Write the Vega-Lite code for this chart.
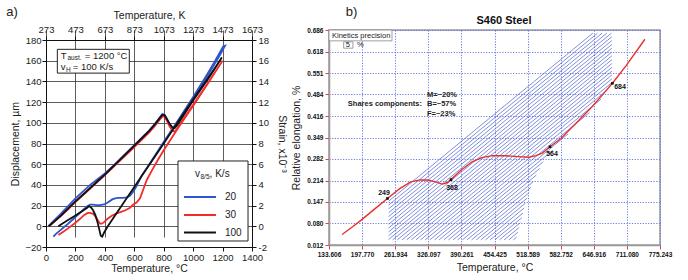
{
"$schema": "https://vega.github.io/schema/vega-lite/v6.json",
"autosize": {"type": "none"},
"padding": {"left": 46, "top": 30, "right": 642, "bottom": 250},
"background": "white",
"spacing": 3,
"config": {
  "font": "Liberation Sans",
  "view": {"stroke": null},
  "axis": {"labelFont": "Liberation Sans", "titleFont": "Liberation Sans", "titleFontWeight": "normal", "labelFlush": false, "labelOverlap": false},
  "text": {"font": "Liberation Sans"}
},
"datasets": {
"curves": [
{"r":"20","i":0,"T":15,"D":0},{"r":"20","i":1,"T":60,"D":6.5},{"r":"20","i":2,"T":100,"D":12},{"r":"20","i":3,"T":150,"D":19.5},{"r":"20","i":4,"T":200,"D":27},{"r":"20","i":5,"T":250,"D":33.5},{"r":"20","i":6,"T":300,"D":40},{"r":"20","i":7,"T":350,"D":45.5},{"r":"20","i":8,"T":400,"D":51},{"r":"20","i":9,"T":450,"D":57.5},{"r":"20","i":10,"T":500,"D":64.5},{"r":"20","i":11,"T":600,"D":78.5},{"r":"20","i":12,"T":700,"D":92.5},{"r":"20","i":13,"T":740,"D":99},{"r":"20","i":14,"T":770,"D":104.5},{"r":"20","i":15,"T":790,"D":108.5},{"r":"20","i":16,"T":805,"D":108},{"r":"20","i":17,"T":820,"D":104.5},{"r":"20","i":18,"T":840,"D":99},{"r":"20","i":19,"T":856,"D":95.5},{"r":"20","i":20,"T":870,"D":95.5},{"r":"20","i":21,"T":890,"D":98.5},{"r":"20","i":22,"T":920,"D":105},{"r":"20","i":23,"T":1000,"D":123},{"r":"20","i":24,"T":1100,"D":146},{"r":"20","i":25,"T":1180,"D":165},{"r":"20","i":26,"T":1217,"D":174.5},
{"r":"20","i":27,"T":1205,"D":174},{"r":"20","i":28,"T":1150,"D":160},{"r":"20","i":29,"T":1100,"D":148},{"r":"20","i":30,"T":1000,"D":125},{"r":"20","i":31,"T":900,"D":103},{"r":"20","i":32,"T":800,"D":81.5},{"r":"20","i":33,"T":700,"D":59.5},{"r":"20","i":34,"T":650,"D":49},{"r":"20","i":35,"T":630,"D":43},{"r":"20","i":36,"T":610,"D":37.5},{"r":"20","i":37,"T":590,"D":33},{"r":"20","i":38,"T":570,"D":29.5},{"r":"20","i":39,"T":550,"D":28},{"r":"20","i":40,"T":520,"D":27.5},{"r":"20","i":41,"T":490,"D":27.5},{"r":"20","i":42,"T":470,"D":27},{"r":"20","i":43,"T":450,"D":26},{"r":"20","i":44,"T":420,"D":23},{"r":"20","i":45,"T":400,"D":21.5},{"r":"20","i":46,"T":370,"D":20.5},{"r":"20","i":47,"T":340,"D":20.5},{"r":"20","i":48,"T":320,"D":21},{"r":"20","i":49,"T":300,"D":21},{"r":"20","i":50,"T":280,"D":19.5},{"r":"20","i":51,"T":250,"D":15.5},{"r":"20","i":52,"T":200,"D":9},{"r":"20","i":53,"T":150,"D":2.5},{"r":"20","i":54,"T":100,"D":-3.5},{"r":"20","i":55,"T":70,"D":-7},{"r":"20","i":56,"T":50,"D":-10},
{"r":"30","i":0,"T":20,"D":0},{"r":"30","i":1,"T":60,"D":5},{"r":"30","i":2,"T":100,"D":10},{"r":"30","i":3,"T":150,"D":16.5},{"r":"30","i":4,"T":200,"D":23.5},{"r":"30","i":5,"T":250,"D":30},{"r":"30","i":6,"T":300,"D":36.5},{"r":"30","i":7,"T":400,"D":49.5},{"r":"30","i":8,"T":500,"D":63},{"r":"30","i":9,"T":600,"D":76.5},{"r":"30","i":10,"T":700,"D":90.5},{"r":"30","i":11,"T":740,"D":97},{"r":"30","i":12,"T":770,"D":102.5},{"r":"30","i":13,"T":790,"D":106},{"r":"30","i":14,"T":805,"D":106},{"r":"30","i":15,"T":820,"D":102.5},{"r":"30","i":16,"T":840,"D":96.5},{"r":"30","i":17,"T":860,"D":92.5},{"r":"30","i":18,"T":872,"D":91.5},{"r":"30","i":19,"T":885,"D":93},{"r":"30","i":20,"T":910,"D":98.5},{"r":"30","i":21,"T":1000,"D":117.5},{"r":"30","i":22,"T":1100,"D":138.5},{"r":"30","i":23,"T":1200,"D":160},
{"r":"30","i":24,"T":1150,"D":149},{"r":"30","i":25,"T":1100,"D":138},{"r":"30","i":26,"T":1000,"D":116.5},{"r":"30","i":27,"T":900,"D":95.5},{"r":"30","i":28,"T":843,"D":83},{"r":"30","i":29,"T":800,"D":73.5},{"r":"30","i":30,"T":760,"D":64},{"r":"30","i":31,"T":720,"D":54},{"r":"30","i":32,"T":684,"D":44.5},{"r":"30","i":33,"T":661,"D":35.5},{"r":"30","i":34,"T":639,"D":27},{"r":"30","i":35,"T":615,"D":23},{"r":"30","i":36,"T":593,"D":21},{"r":"30","i":37,"T":571,"D":18},{"r":"30","i":38,"T":540,"D":15.5},{"r":"30","i":39,"T":510,"D":14},{"r":"30","i":40,"T":480,"D":12.5},{"r":"30","i":41,"T":450,"D":10.5},{"r":"30","i":42,"T":420,"D":7.5},{"r":"30","i":43,"T":395,"D":4},{"r":"30","i":44,"T":380,"D":2.5},{"r":"30","i":45,"T":367,"D":2.5},{"r":"30","i":46,"T":355,"D":5},{"r":"30","i":47,"T":340,"D":9},{"r":"30","i":48,"T":320,"D":12},{"r":"30","i":49,"T":300,"D":13},{"r":"30","i":50,"T":285,"D":13},{"r":"30","i":51,"T":260,"D":11},{"r":"30","i":52,"T":230,"D":7},{"r":"30","i":53,"T":200,"D":3.5},{"r":"30","i":54,"T":150,"D":-2},{"r":"30","i":55,"T":110,"D":-6},{"r":"30","i":56,"T":84,"D":-8.5},
{"r":"100","i":0,"T":18,"D":0},{"r":"100","i":1,"T":60,"D":5},{"r":"100","i":2,"T":100,"D":10},{"r":"100","i":3,"T":150,"D":17},{"r":"100","i":4,"T":200,"D":24},{"r":"100","i":5,"T":250,"D":30.5},{"r":"100","i":6,"T":300,"D":37},{"r":"100","i":7,"T":350,"D":43.5},{"r":"100","i":8,"T":400,"D":50},{"r":"100","i":9,"T":450,"D":57},{"r":"100","i":10,"T":500,"D":64},{"r":"100","i":11,"T":550,"D":71},{"r":"100","i":12,"T":600,"D":78},{"r":"100","i":13,"T":650,"D":85},{"r":"100","i":14,"T":700,"D":92},{"r":"100","i":15,"T":740,"D":98.5},{"r":"100","i":16,"T":770,"D":104},{"r":"100","i":17,"T":790,"D":107.5},{"r":"100","i":18,"T":805,"D":107.5},{"r":"100","i":19,"T":820,"D":104},{"r":"100","i":20,"T":840,"D":99},{"r":"100","i":21,"T":860,"D":95.5},{"r":"100","i":22,"T":875,"D":95},{"r":"100","i":23,"T":890,"D":97.5},{"r":"100","i":24,"T":920,"D":104},{"r":"100","i":25,"T":1000,"D":121.5},{"r":"100","i":26,"T":1100,"D":142},{"r":"100","i":27,"T":1160,"D":155},{"r":"100","i":28,"T":1195,"D":163},
{"r":"100","i":29,"T":1150,"D":153.5},{"r":"100","i":30,"T":1100,"D":143},{"r":"100","i":31,"T":1000,"D":122.5},{"r":"100","i":32,"T":900,"D":101.5},{"r":"100","i":33,"T":800,"D":80},{"r":"100","i":34,"T":700,"D":59},{"r":"100","i":35,"T":600,"D":38},{"r":"100","i":36,"T":500,"D":17},{"r":"100","i":37,"T":420,"D":0},{"r":"100","i":38,"T":395,"D":-6},{"r":"100","i":39,"T":382,"D":-10},{"r":"100","i":40,"T":372,"D":-9},{"r":"100","i":41,"T":362,"D":-3},{"r":"100","i":42,"T":350,"D":4},{"r":"100","i":43,"T":335,"D":11},{"r":"100","i":44,"T":320,"D":15.5},{"r":"100","i":45,"T":305,"D":18.5},{"r":"100","i":46,"T":292,"D":19.5},{"r":"100","i":47,"T":280,"D":18},{"r":"100","i":48,"T":250,"D":15},{"r":"100","i":49,"T":200,"D":10.5},{"r":"100","i":50,"T":150,"D":6},{"r":"100","i":51,"T":110,"D":2.5},{"r":"100","i":52,"T":84,"D":0}
],
"legend": [
{"r":"20","T1":938,"T2":1155,"D":28.3,"t":"20","L":1216},
{"r":"30","T1":938,"T2":1155,"D":10.9,"t":"30","L":1216},
{"r":"100","T1":938,"T2":1155,"D":-6,"t":"100","L":1216}
],
"hatch": [
{"k":0,"T":249,"V":0.149},{"k":0,"T":645,"V":0.676},
{"k":1,"T":249,"V":0.137},{"k":1,"T":654,"V":0.676},
{"k":2,"T":249,"V":0.125},{"k":2,"T":663,"V":0.676},
{"k":3,"T":249,"V":0.113},{"k":3,"T":672,"V":0.676},
{"k":4,"T":249,"V":0.101},{"k":4,"T":681,"V":0.676},
{"k":5,"T":249,"V":0.089},{"k":5,"T":682,"V":0.665},
{"k":6,"T":249,"V":0.077},{"k":6,"T":682,"V":0.653},
{"k":7,"T":249,"V":0.065},{"k":7,"T":682,"V":0.641},
{"k":8,"T":249,"V":0.053},{"k":8,"T":682,"V":0.629},
{"k":9,"T":249,"V":0.041},{"k":9,"T":682,"V":0.617},
{"k":10,"T":249,"V":0.029},{"k":10,"T":682,"V":0.605},
{"k":11,"T":257,"V":0.028},{"k":11,"T":682,"V":0.593},
{"k":12,"T":266,"V":0.028},{"k":12,"T":682,"V":0.581},
{"k":13,"T":275,"V":0.028},{"k":13,"T":682,"V":0.569},
{"k":14,"T":284,"V":0.028},{"k":14,"T":682,"V":0.557},
{"k":15,"T":293,"V":0.028},{"k":15,"T":682,"V":0.545},
{"k":16,"T":302,"V":0.028},{"k":16,"T":682,"V":0.533},
{"k":17,"T":311,"V":0.028},{"k":17,"T":680.3,"V":0.519},
{"k":18,"T":320,"V":0.028},{"k":18,"T":672.3,"V":0.497},
{"k":19,"T":329,"V":0.028},{"k":19,"T":660.8,"V":0.469},
{"k":20,"T":338,"V":0.028},{"k":20,"T":638.3,"V":0.427},
{"k":21,"T":347,"V":0.028},{"k":21,"T":596.8,"V":0.360},
{"k":22,"T":356,"V":0.028},{"k":22,"T":567.5,"V":0.309},
{"k":23,"T":365,"V":0.028},{"k":23,"T":549,"V":0.273},
{"k":24,"T":374,"V":0.028},{"k":24,"T":542.2,"V":0.252},
{"k":25,"T":383,"V":0.028},{"k":25,"T":535.4,"V":0.231},
{"k":26,"T":392,"V":0.028},{"k":26,"T":529.2,"V":0.210},
{"k":27,"T":401,"V":0.028},{"k":27,"T":525.4,"V":0.193},
{"k":28,"T":410,"V":0.028},{"k":28,"T":521.6,"V":0.176},
{"k":29,"T":419,"V":0.028},{"k":29,"T":517.8,"V":0.159},
{"k":30,"T":428,"V":0.028},{"k":30,"T":514.4,"V":0.143},
{"k":31,"T":437,"V":0.028},{"k":31,"T":511.9,"V":0.128},
{"k":32,"T":446,"V":0.028},{"k":32,"T":509.5,"V":0.112},
{"k":33,"T":455,"V":0.028},{"k":33,"T":507.1,"V":0.097},
{"k":34,"T":464,"V":0.028},{"k":34,"T":504.6,"V":0.082},
{"k":35,"T":473,"V":0.028},{"k":35,"T":502.2,"V":0.067},
{"k":36,"T":482,"V":0.028},{"k":36,"T":499.8,"V":0.052},
{"k":37,"T":491,"V":0.028},{"k":37,"T":497.4,"V":0.037}
],
"red": [
{"T":159,"V":0.045},{"T":180,"V":0.070},{"T":196,"V":0.090},{"T":220,"V":0.122},{"T":247,"V":0.158},{"T":270,"V":0.188},{"T":292,"V":0.210},{"T":310,"V":0.216},{"T":325,"V":0.216},{"T":340,"V":0.210},{"T":353,"V":0.203},{"T":362,"V":0.207},{"T":370,"V":0.217},{"T":390,"V":0.247},{"T":411,"V":0.273},{"T":430,"V":0.286},{"T":450,"V":0.292},{"T":476,"V":0.292},{"T":500,"V":0.289},{"T":521,"V":0.287},{"T":535,"V":0.292},{"T":547,"V":0.300},{"T":562,"V":0.320},{"T":583,"V":0.346},{"T":610,"V":0.390},{"T":644,"V":0.446},{"T":665,"V":0.485},{"T":683,"V":0.519},{"T":710,"V":0.575},{"T":746,"V":0.657}
]
},
"hconcat": [
{
 "width": 206, "height": 217,
 "layer": [
  {
   "data": {"name": "curves"},
   "mark": {"type": "line", "strokeWidth": 1.8},
   "encoding": {
    "x": {"field": "T", "type": "quantitative", "scale": {"domain": [0, 1400], "nice": false, "zero": false},
      "axis": {"orient": "bottom", "values": [0,200,400,600,800,1000,1200,1400], "format": "d", "title": "Temperature, °C", "grid": true, "gridColor": "#333", "gridWidth": 0.8, "domainColor": "#111", "tickColor": "#111", "tickSize": 4, "labelFontSize": 9.5, "labelColor": "#222", "labelPadding": 1, "titleFontSize": 10.5, "titleColor": "#222", "titlePadding": 2}},
    "y": {"field": "D", "type": "quantitative", "scale": {"domain": [-20, 180], "range": [217, 10], "nice": false, "zero": false},
      "axis": {"orient": "left", "values": [-20,0,20,40,60,80,100,120,140,160,180], "format": "d", "title": "Displacement, µm", "grid": true, "gridColor": "#333", "gridWidth": 0.8, "domainColor": "#111", "tickColor": "#111", "tickSize": 4, "labelFontSize": 9.5, "labelColor": "#222", "labelPadding": 1, "titleFontSize": 10.5, "titleColor": "#222", "titlePadding": 4}},
    "color": {"field": "r", "type": "nominal", "scale": {"domain": ["20","30","100"], "range": ["#2f55c8","#f52a2a","#111111"]}, "legend": null},
    "order": {"field": "i", "type": "quantitative"}
   }
  },
  {
   "data": {"values": [{"T1": 77, "T2": 566, "D1": 148, "D2": 171}, {"T1": 897, "T2": 1373, "D1": -14.2, "D2": 63.1}]},
   "mark": {"type": "rect", "fill": "white", "stroke": "#222", "strokeWidth": 1},
   "encoding": {
    "x": {"field": "T1", "type": "quantitative",
      "axis": {"orient": "top", "offset": -10, "values": [0,200,400,600,800,1000,1200,1400], "labelExpr": "datum.value + 273", "title": "Temperature, K", "grid": false, "domainColor": "#111", "tickColor": "#111", "tickSize": 4, "labelFontSize": 9.5, "labelColor": "#222", "labelPadding": 2, "titleFontSize": 10.5, "titleColor": "#222", "titlePadding": 4}},
    "x2": {"field": "T2"},
    "y": {"field": "D1", "type": "quantitative",
      "axis": {"orient": "right", "values": [-20,0,20,40,60,80,100,120,140,160,180], "labelExpr": "datum.value / 10", "title": "Strain, x10⁻³", "grid": false, "domainColor": "#111", "tickColor": "#111", "tickSize": 4, "labelFontSize": 9.5, "labelColor": "#222", "labelPadding": 2, "titleFontSize": 10.5, "titleColor": "#222", "titlePadding": 8}},
    "y2": {"field": "D2"}
   }
  },
  {
   "data": {"name": "legend"},
   "mark": {"type": "rule", "strokeWidth": 2},
   "encoding": {
    "x": {"field": "T1", "type": "quantitative", "axis": null}, "x2": {"field": "T2"},
    "y": {"field": "D", "type": "quantitative", "axis": null},
    "color": {"field": "r", "type": "nominal", "legend": null}
   }
  },
  {
   "data": {"name": "legend"},
   "mark": {"type": "text", "align": "left", "baseline": "middle", "fontSize": 10, "color": "#222"},
   "encoding": {"x": {"field": "L", "type": "quantitative", "axis": null}, "y": {"field": "D", "type": "quantitative", "axis": null}, "text": {"field": "t"}}
  },
  {
   "data": {"values": [{"t": "T", "T": 100, "D": 164.8}, {"t": "= 1200 °C", "T": 264, "D": 164.8}, {"t": "v", "T": 100, "D": 153.6}, {"t": "= 100 K/s", "T": 182, "D": 153.6}]},
   "mark": {"type": "text", "align": "left", "baseline": "middle", "fontSize": 9.5, "color": "#222"},
   "encoding": {"x": {"field": "T", "type": "quantitative", "axis": null}, "y": {"field": "D", "type": "quantitative", "axis": null}, "text": {"field": "t"}}
  },
  {
   "data": {"values": [{"t": "v", "T": 1013, "D": 50.5}, {"t": " , K/s", "T": 1112, "D": 50.5}]},
   "mark": {"type": "text", "align": "left", "baseline": "middle", "fontSize": 10, "color": "#222"},
   "encoding": {"x": {"field": "T", "type": "quantitative", "axis": null}, "y": {"field": "D", "type": "quantitative", "axis": null}, "text": {"field": "t"}}
  },
  {
   "data": {"values": [{"t": "aust.", "T": 146, "D": 162.3}, {"t": "H", "T": 136, "D": 150.6}, {"t": "8/5", "T": 1050, "D": 47.6}]},
   "mark": {"type": "text", "align": "left", "baseline": "middle", "fontSize": 6.5, "color": "#222"},
   "encoding": {"x": {"field": "T", "type": "quantitative", "axis": null}, "y": {"field": "D", "type": "quantitative", "axis": null}, "text": {"field": "t"}}
  },
  {
   "data": {"values": [{"t": "a)", "T": -231, "D": 207}]},
   "mark": {"type": "text", "align": "center", "baseline": "middle", "fontSize": 13, "color": "#222"},
   "encoding": {"x": {"field": "T", "type": "quantitative", "axis": null}, "y": {"field": "D", "type": "quantitative", "axis": null}, "text": {"field": "t"}}
  }
 ],
 "resolve": {"axis": {"x": "independent", "y": "independent"}}
},
{
 "width": 331, "height": 215,
 "view": {"stroke": "#9a9a9a", "strokeWidth": 1.5},
 "encoding": {
  "x": {"field": "T", "type": "quantitative", "scale": {"domain": [133.606, 775.243], "nice": false, "zero": false},
    "axis": {"values": [133.606,197.77,261.934,326.097,390.261,454.425,518.589,582.752,646.916,711.08,775.243], "format": ".3f", "title": "Temperature, °C", "grid": true, "gridColor": "#5b6ee0", "gridDash": [1.2, 1.5], "gridWidth": 0.9, "domainColor": "#9a9a9a", "domainWidth": 1.5, "tickColor": "#e04040", "tickSize": 4, "labelFontSize": 6.5, "labelFontWeight": "bold", "labelColor": "#111", "labelPadding": 2, "titleFontSize": 10.5, "titleColor": "#222", "titlePadding": 5}},
  "y": {"field": "V", "type": "quantitative", "scale": {"domain": [0.012, 0.686], "nice": false, "zero": false},
    "axis": {"values": [0.012,0.08,0.147,0.214,0.282,0.349,0.416,0.484,0.551,0.618,0.686], "format": ".3f", "title": "Relative elongation, %", "grid": true, "gridColor": "#5b6ee0", "gridDash": [1.2, 1.5], "gridWidth": 0.9, "domainColor": "#9a9a9a", "domainWidth": 1.5, "tickColor": "#e04040", "tickSize": 4, "labelFontSize": 6.5, "labelFontWeight": "bold", "labelColor": "#111", "labelPadding": 2, "titleFontSize": 10.5, "titleColor": "#222", "titlePadding": 5}}
 },
 "layer": [
  {
   "data": {"name": "hatch"},
   "mark": {"type": "line", "stroke": "#4a5ec8", "strokeWidth": 0.7},
   "encoding": {"detail": {"field": "k", "type": "nominal"}}
  },
  {
   "data": {"name": "red"},
   "mark": {"type": "line", "stroke": "#e8302a", "strokeWidth": 1.4},
   "encoding": {}
  },
  {
   "data": {"values": [{"T": 247, "V": 0.158}, {"T": 370, "V": 0.217}, {"T": 562, "V": 0.320}, {"T": 683, "V": 0.519}]},
   "mark": {"type": "square", "filled": true, "color": "#111", "size": 7, "opacity": 1}
  },
  {
   "data": {"values": [{"t": "249", "T": 240.2, "V": 0.175}, {"t": "368", "T": 372, "V": 0.192}, {"t": "564", "T": 565.9, "V": 0.297}, {"t": "684", "T": 697.7, "V": 0.506}]},
   "mark": {"type": "text", "align": "center", "baseline": "middle", "fontSize": 7, "fontWeight": "bold", "color": "#111"},
   "encoding": {"text": {"field": "t"}}
  },
  {
   "data": {"values": [{"T": 133.606, "T2": 255.7, "V": 0.652, "V2": 0.686}, {"T": 162, "T2": 180, "V": 0.629, "V2": 0.649}]},
   "mark": {"type": "rect", "fill": "white", "stroke": "#888", "strokeWidth": 0.8},
   "encoding": {"x2": {"field": "T2"}, "y2": {"field": "V2"}}
  },
  {
   "data": {"values": [{"t": "Kinetics precision", "T": 139.4, "V": 0.668}, {"t": "5", "T": 166, "V": 0.639}, {"t": "%", "T": 188, "V": 0.639}]},
   "mark": {"type": "text", "align": "left", "baseline": "middle", "fontSize": 7.5, "color": "#222"},
   "encoding": {"text": {"field": "t"}}
  },
  {
   "data": {"values": [{"t": "Shares components:", "T": 313.9, "V": 0.454}]},
   "mark": {"type": "text", "align": "right", "baseline": "middle", "fontSize": 7.5, "fontWeight": "bold", "color": "#222"},
   "encoding": {"text": {"field": "t"}}
  },
  {
   "data": {"values": [{"t": "M=~20%", "T": 323.6, "V": 0.482}, {"t": "B=~57%", "T": 323.6, "V": 0.454}, {"t": "F=~23%", "T": 323.6, "V": 0.423}]},
   "mark": {"type": "text", "align": "left", "baseline": "middle", "fontSize": 7.5, "fontWeight": "bold", "color": "#222"},
   "encoding": {"text": {"field": "t"}}
  },
  {
   "data": {"values": [{"t": "S460 Steel", "T": 472.8, "V": 0.714}]},
   "mark": {"type": "text", "align": "center", "baseline": "middle", "fontSize": 11, "fontWeight": "bold", "color": "#111"},
   "encoding": {"text": {"field": "t"}}
  },
  {
   "data": {"values": [{"t": "b)", "T": 177.2, "V": 0.742}]},
   "mark": {"type": "text", "align": "center", "baseline": "middle", "fontSize": 13, "color": "#222"},
   "encoding": {"text": {"field": "t"}}
  }
 ]
}
]
}
